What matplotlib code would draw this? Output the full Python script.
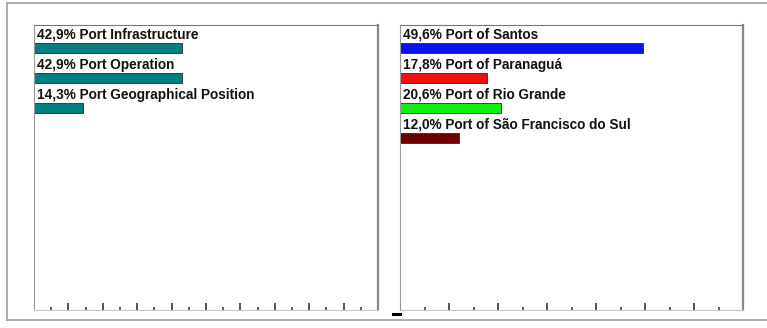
import matplotlib.pyplot as plt
from matplotlib.lines import Line2D
import numpy as np

plt.rcParams['font.family'] = ['Liberation Sans', 'DejaVu Sans']

# Factors cited for port choice
factor_names = ["Port Infrastructure", "Port Operation", "Port Geographical Position"]
factor_pct = [42.9, 42.9, 14.3]
factor_colors = ["#008080", "#008080", "#008080"]

# Share of each port
port_names = ["Port of Santos", "Port of Paranaguá", "Port of Rio Grande",
              "Port of São Francisco do Sul"]
port_pct = [49.6, 17.8, 20.6, 12.0]
port_colors = ["#0a14f0", "#f01010", "#10f010", "#700000"]

W, H = 767, 328
fig = plt.figure(figsize=(W / 100, H / 100), dpi=100)

# frame around both panels (open on the right)
frame = dict(color="#a8a8a8", lw=1.3)
fig.add_artist(Line2D([7 / W, 1.0], [1 - 3 / H] * 2, **frame))
fig.add_artist(Line2D([7 / W, 1.0], [1 - 320 / H] * 2, **frame))
fig.add_artist(Line2D([7 / W] * 2, [1 - 3 / H, 1 - 320 / H], **frame))


def panel(rect, names, values, colors, xmax):
    ax = fig.add_axes(rect)
    y = list(range(len(values)))
    ax.barh(y, values, height=0.35, color=colors, edgecolor="#2a2a2a",
            linewidth=0.6, align="center")
    for yi, name, v in zip(y, names, values):
        label = f"{v:.1f}".replace(".", ",") + "% " + name
        ax.text(xmax * 0.009, yi - 0.45, label, ha="left", va="center",
                fontsize=9.8, fontweight="bold", color="#111111")
    ax.set_xlim(0, xmax)
    ax.set_ylim(8.73, -0.77)
    ax.set_yticks([])
    ax.set_xticks(np.arange(10, xmax, 10))
    ax.set_xticks(np.arange(5, xmax, 10), minor=True)
    ax.tick_params(axis="x", which="major", direction="in", length=5,
                   width=1.2, color="#333333", labelbottom=False)
    ax.tick_params(axis="x", which="minor", direction="in", length=2.5,
                   width=1.2, color="#444444")
    ax.spines["left"].set_color("#999999")
    ax.spines["top"].set_color("#777777")
    ax.spines["right"].set_color("#888888")
    ax.spines["right"].set_linewidth(1.6)
    ax.spines["bottom"].set_color("#c8c8c8")
    return ax


panel([34 / W, 1 - 310 / H, 344 / W, 285 / H], factor_names, factor_pct,
      factor_colors, 100)
panel([400 / W, 1 - 310 / H, 343 / W, 285 / H], port_names, port_pct,
      port_colors, 70)

fig.add_artist(Line2D([393 / W, 400 / W], [1 - 314 / H] * 2, color="black", lw=2.2))

fig.savefig("out.png", dpi=100)
